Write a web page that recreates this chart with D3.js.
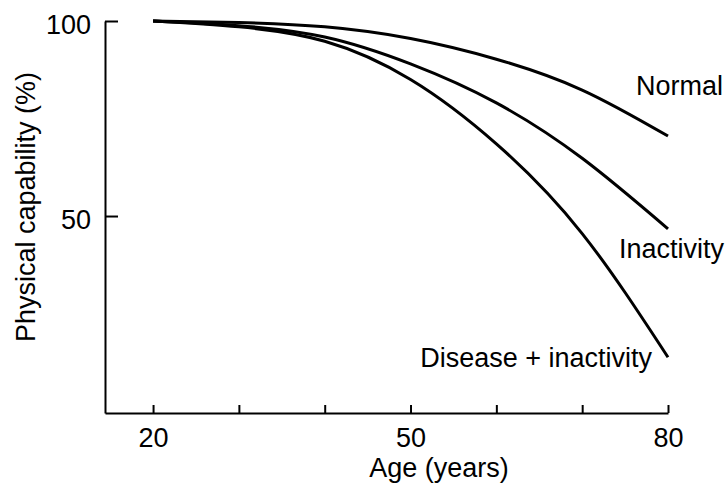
<!DOCTYPE html>
<html>
<head>
<meta charset="utf-8">
<script src="https://cdn.jsdelivr.net/npm/d3@7"></script>
<style>
  body { margin: 0; background: #fff; }
  text { font-family: "Liberation Sans", Arial, Helvetica, sans-serif; fill: #000; }
</style>
</head>
<body>
<svg id="chart" width="728" height="484"></svg>
<script>
// ages along the x axis
let ages = [20, 30, 40, 50, 60, 70, 80];
let normal = [100, 99.6, 98.5, 95.5, 90.2, 82.3, 70.5];
let inactivity = [100, 98.8, 95.9, 89, 79, 64.8, 46.7];
let disease = [100, 98.5, 94.8, 85, 68.5, 45.5, 13.8];

let xTicks = [20, 30, 40, 50, 60, 70, 80];
let xLabels = [20, 50, 80];
let yTicks = [50, 100];

let seriesNames = ["Normal", "Inactivity", "Disease + inactivity"];
let seriesValues = [normal, inactivity, disease];

let svg = d3.select("#chart");

let x = d3.scaleLinear().domain([14.4, 80]).range([105, 668]);
let y = d3.scaleLinear().domain([-0.5, 100]).range([413, 21]);

// x axis, ticks pointing up into the plot
let xAxis = d3.axisBottom(x)
    .tickValues(xTicks)
    .tickSizeInner(-8)
    .tickSizeOuter(0)
    .tickPadding(15)
    .tickFormat(d => xLabels.includes(d) ? d : "");

let gx = svg.append("g")
    .attr("transform", "translate(0," + y(-0.5) + ")")
    .call(xAxis);

// y axis, ticks pointing right
let yAxis = d3.axisLeft(y)
    .tickValues(yTicks)
    .tickSizeInner(-13)
    .tickSizeOuter(0)
    .tickPadding(14);

let gy = svg.append("g")
    .attr("transform", "translate(" + x(14.4) + ",0)")
    .call(yAxis);

[gx, gy].forEach(g => {
    g.select(".domain").attr("stroke", "#000").attr("stroke-width", 2);
    g.selectAll(".tick line").attr("stroke", "#000").attr("stroke-width", 2);
    g.selectAll(".tick text")
        .style("font-family", "'Liberation Sans', Arial, sans-serif")
        .style("font-size", "27px")
        .attr("fill", "#000");
});
gy.selectAll(".tick text").attr("dy", "0.45em");

let line = d3.line()
    .x((d, i) => x(ages[i]))
    .y(d => y(d))
    .curve(d3.curveNatural);

svg.append("g").selectAll("path")
    .data(seriesValues)
    .join("path")
    .attr("d", d => line(d))
    .attr("fill", "none")
    .attr("stroke", "#000")
    .attr("stroke-width", 3);

// curve labels
let labelPos = [[723, 95], [724, 258], [652, 367]];
svg.append("g").selectAll("text")
    .data(seriesNames)
    .join("text")
    .attr("x", (d, i) => labelPos[i][0])
    .attr("y", (d, i) => labelPos[i][1])
    .attr("text-anchor", "end")
    .style("font-size", "27px")
    .text(d => d);

// axis titles
svg.append("text")
    .attr("x", 439)
    .attr("y", 477)
    .attr("text-anchor", "middle")
    .style("font-size", "27px")
    .text("Age (years)");

svg.append("text")
    .attr("transform", "rotate(-90)")
    .attr("x", -207)
    .attr("y", 35)
    .attr("text-anchor", "middle")
    .style("font-size", "27px")
    .text("Physical capability (%)");
</script>
</body>
</html>
